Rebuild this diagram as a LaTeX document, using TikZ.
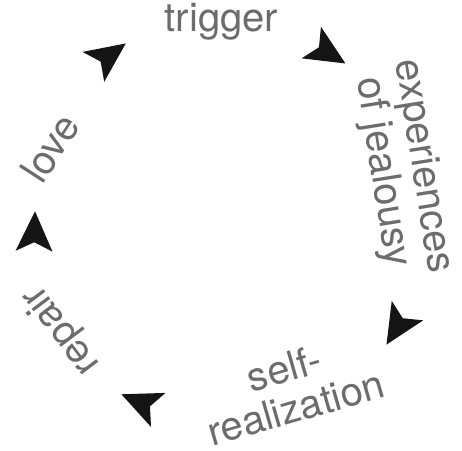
\documentclass[tikz,border=0pt]{standalone}
\usepackage{fontspec}
\setmainfont{TeX Gyre Heros}
\definecolor{txt}{HTML}{6c6c6c}
\definecolor{arr}{HTML}{151515}
\begin{document}
\begin{tikzpicture}[x=1pt,y=1pt,
  lbl/.style={text=txt, font=\fontsize{40}{41}\selectfont, align=center, inner sep=0pt},
  arrowhead/.pic={\fill[arr, rotate=#1] (21,0) -- (-19,18.5) -- (-10,0) -- (-19,-18.5) -- cycle;}]
\useasboundingbox (0,0) rectangle (462,450);
\node[lbl, anchor=base] (trigger) at (221.5,418) {trigger};
\node[lbl, rotate=-81] (jealousy) at (402,280.5) {experiences\\of jealousy};
\node[lbl, rotate=16] (selfreal) at (290,62) {self-\\realization};
\node[lbl, rotate=127] (repair) at (62,120) {repair};
\node[lbl, rotate=57] (love) at (50,302) {love};
\pic (a1) at (108.75,394.25) {arrowhead=35.9};
\pic (a2) at (327.5,397.5) {arrowhead=-31.5};
\pic (a3) at (397.5,123.25) {arrowhead=-121.7};
\pic (a4) at (140.75,47.5) {arrowhead=157};
\pic (a5) at (34.5,217.75) {arrowhead=88.6};
\end{tikzpicture}
\end{document}
